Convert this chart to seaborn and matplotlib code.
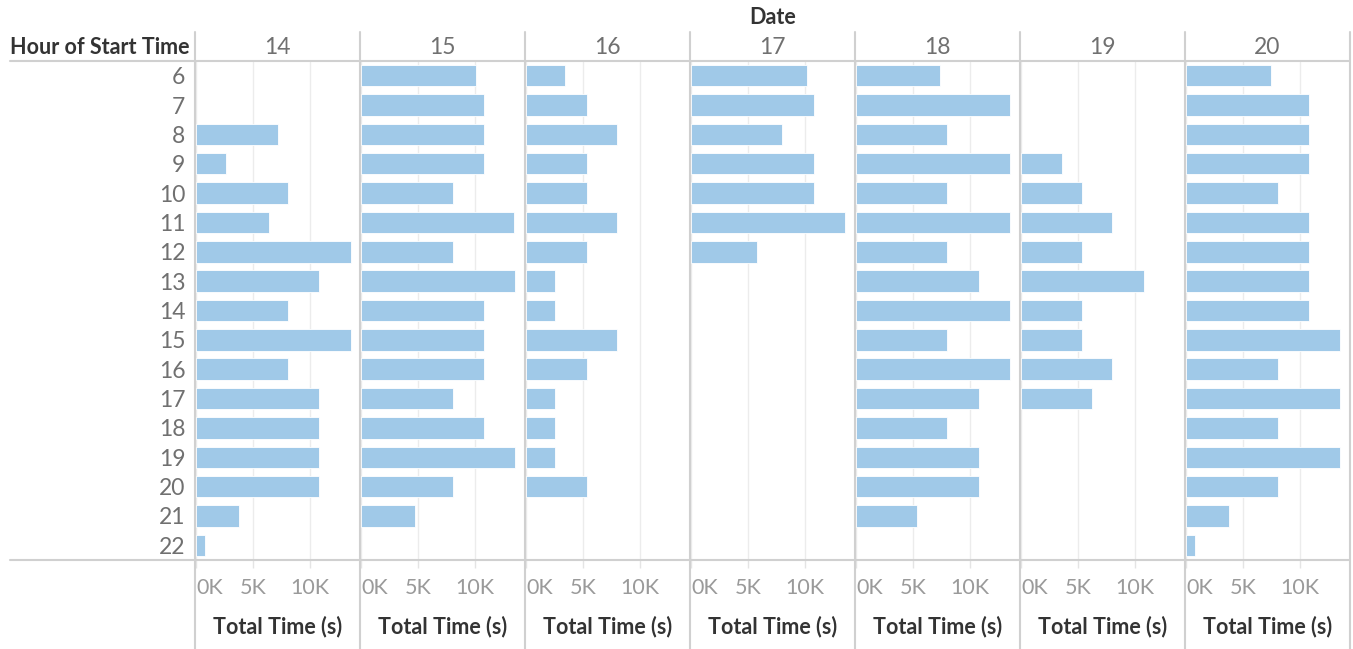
import numpy as np
import pandas as pd
import matplotlib
matplotlib.use("Agg")
import matplotlib.pyplot as plt
from matplotlib.lines import Line2D
import seaborn as sns

nan = np.nan
hours = [str(h) for h in range(6, 23)]
dates = ["14", "15", "16", "17", "18", "19", "20"]

d14 = [nan, nan, 7200, 2600, 8050, 6400, 13550, 10800, 8050, 13550, 8050, 10800, 10800, 10800, 10800, 3750, 780]
d15 = [10100, 10750, 10750, 10750, 8050, 13400, 8100, 13500, 10750, 10750, 10750, 8050, 10750, 13500, 8050, 4700, nan]
d16 = [3450, 5300, 8000, 5300, 5300, 8000, 5300, 2550, 2550, 8000, 5300, 2550, 2550, 2550, 5300, nan, nan]
d17 = [10150, 10750, 8000, 10750, 10750, 13500, 5750, nan, nan, nan, nan, nan, nan, nan, nan, nan, nan]
d18 = [7400, 13500, 8000, 13500, 8000, 13500, 8000, 10750, 13500, 8000, 13500, 10750, 8000, 10750, 10750, 5300, nan]
d19 = [nan, nan, nan, 3550, 5350, 8000, 5350, 10750, 5350, 5350, 8000, 6200, nan, nan, nan, nan, nan]
d20 = [7450, 10800, 10800, 10800, 8050, 10800, 10800, 10800, 10800, 13500, 8050, 13500, 8050, 13500, 8050, 3750, 770]

series = [d14, d15, d16, d17, d18, d19, d20]
x_ticks = [0, 5000, 10000]
x_tick_labels = ["0K", "5K", "10K"]

rows = []
for d, vals in zip(dates, series):
    for h, v in zip(hours, vals):
        if not np.isnan(v):
            rows.append({"Date": d, "Hour": h, "Total": v})
df = pd.DataFrame(rows)

sns.set_theme(style="white")
plt.rcParams["font.family"] = ["Lato", "DejaVu Sans"]

W, H = 1353, 649
fig = plt.figure(figsize=(W / 100, H / 100), dpi=100)

BAR = "#a0c9e8"
GRID = "#ececec"
LINE = "#d0d0d0"
TXT_GRAY = "#707070"
TICK_GRAY = "#9a9a9a"
DARK = "#333333"

x0, pw = 195, 165
top, bot = 61, 560

for i, d in enumerate(dates):
    left = x0 + i * pw
    ax = fig.add_axes([left / W, (H - bot) / H, pw / W, (bot - top) / H])
    sub = df[df["Date"] == d]
    sns.barplot(data=sub, x="Total", y="Hour", order=hours, orient="h",
                color=BAR, saturation=1, width=0.73, ax=ax,
                edgecolor="white", linewidth=0.6)
    ax.set_xlim(-100, 14380)
    ax.set_ylim(16.5, -0.5)
    ax.set_xticks(x_ticks)
    ax.set_xticklabels(x_tick_labels)
    ax.grid(axis="x", color=GRID, linewidth=1)
    ax.set_axisbelow(True)
    for s in ax.spines.values():
        s.set_visible(False)
    ax.tick_params(axis="x", length=6, color="#e4e4e4", width=1, pad=7,
                   labelsize=15.5, labelcolor=TICK_GRAY, direction="out", bottom=True)
    tl = ax.get_xticklabels()
    tl[0].set_horizontalalignment("left")
    ax.set_xlabel("Total Time (s)", fontsize=15.5, fontweight="bold", color=DARK, labelpad=13)
    if i == 0:
        ax.tick_params(axis="y", length=0, pad=7, labelsize=16.5, labelcolor=TXT_GRAY)
        ax.set_ylabel("")
    else:
        ax.set_yticklabels([])
        ax.tick_params(axis="y", length=0)
        ax.set_ylabel("")
    fig.text((left + pw / 2) / W, 1 - 47 / H, d, ha="center", va="center",
             fontsize=16.5, color=TXT_GRAY)

# header and separator lines
fig.add_artist(Line2D([10 / W, 1350 / W], [1 - top / H, 1 - top / H], color=LINE, lw=1.5))
fig.add_artist(Line2D([10 / W, 1350 / W], [1 - bot / H, 1 - bot / H], color=LINE, lw=1.5))
for i in range(len(dates) + 1):
    xx = (x0 + i * pw) / W
    fig.add_artist(Line2D([xx, xx], [0, 1 - 32 / H], color=LINE, lw=1.5))

fig.text(10 / W, 1 - 47 / H, "Hour of Start Time", ha="left", va="center",
         fontsize=15.5, fontweight="bold", color=DARK)
fig.text((x0 + 7 * pw / 2) / W, 1 - 18 / H, "Date", ha="center", va="center",
         fontsize=15.5, fontweight="bold", color=DARK)

fig.savefig("out.png", dpi=100)
